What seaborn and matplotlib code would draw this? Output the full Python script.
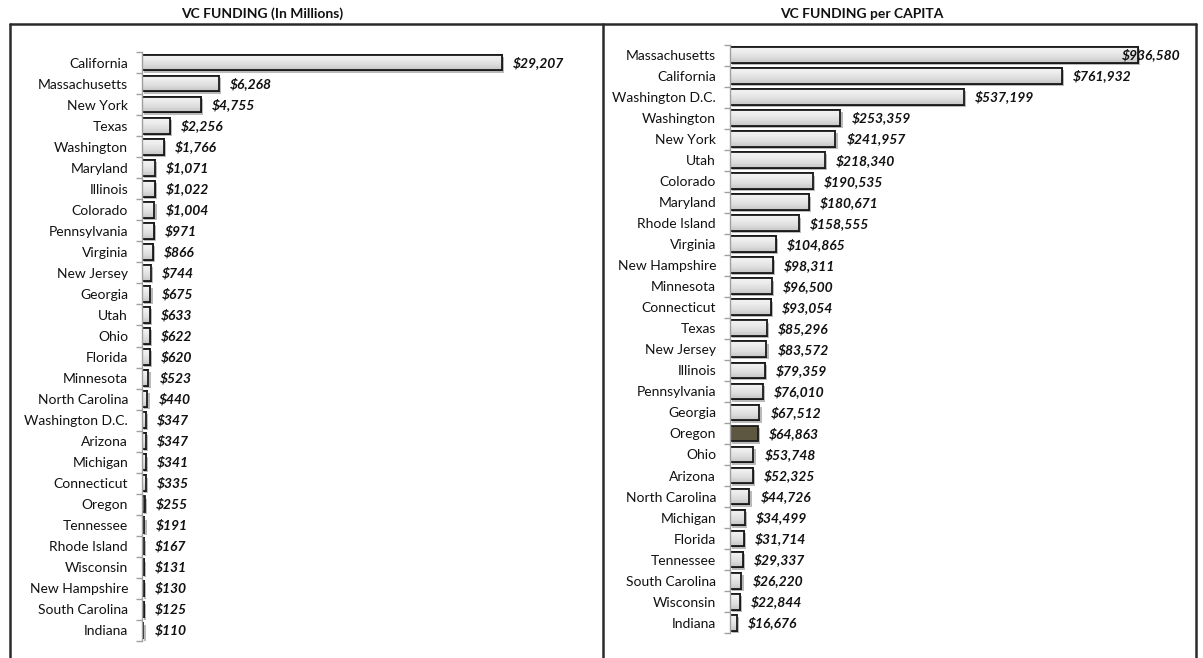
import matplotlib
matplotlib.use("Agg")
import matplotlib.pyplot as plt
import matplotlib.patheffects as pe
from matplotlib.lines import Line2D
from matplotlib.colors import LinearSegmentedColormap
import seaborn as sns
import pandas as pd
import numpy as np

# ---- data ----
states_total = ["California", "Massachusetts", "New York", "Texas", "Washington", "Maryland",
                "Illinois", "Colorado", "Pennsylvania", "Virginia", "New Jersey", "Georgia",
                "Utah", "Ohio", "Florida", "Minnesota", "North Carolina", "Washington D.C.",
                "Arizona", "Michigan", "Connecticut", "Oregon", "Tennessee", "Rhode Island",
                "Wisconsin", "New Hampshire", "South Carolina", "Indiana"]
funding_total = [29207, 6268, 4755, 2256, 1766, 1071, 1022, 1004, 971, 866, 744, 675,
                 633, 622, 620, 523, 440, 347, 347, 341, 335, 255, 191, 167, 131, 130, 125, 110]

states_capita = ["Massachusetts", "California", "Washington D.C.", "Washington", "New York",
                 "Utah", "Colorado", "Maryland", "Rhode Island", "Virginia", "New Hampshire",
                 "Minnesota", "Connecticut", "Texas", "New Jersey", "Illinois", "Pennsylvania",
                 "Georgia", "Oregon", "Ohio", "Arizona", "North Carolina", "Michigan", "Florida",
                 "Tennessee", "South Carolina", "Wisconsin", "Indiana"]
funding_capita = [936580, 761932, 537199, 253359, 241957, 218340, 190535, 180671, 158555,
                  104865, 98311, 96500, 93054, 85296, 83572, 79359, 76010, 67512, 64863,
                  53748, 52325, 44726, 34499, 31714, 29337, 26220, 22844, 16676]

title_total = "VC FUNDING (In Millions)"
title_capita = "VC FUNDING per CAPITA"
highlight = "Oregon"

# ---- style ----
sns.set_theme(style="white")
plt.rcParams["font.family"] = ["Lato", "DejaVu Sans"]

W, H = 1203, 658
fig = plt.figure(figsize=(W / 100, H / 100), dpi=100)

BAR_FILL = "#e3e3e3"
HL_FILL = "#5d5640"
grad_cmap = LinearSegmentedColormap.from_list(
    "g", ["#f4f4f4", "#ebebeb", "#dcdcdc", "#c6c6c6"])


def fx(px):
    return px / W


def fy(py):
    return 1 - py / H


def panel(ax_rect, states, values, xmax):
    l, t, r, b = ax_rect
    ax = fig.add_axes([fx(l), fy(b), fx(r) - fx(l), fy(t) - fy(b)])
    df = pd.DataFrame({"state": states, "value": values})
    pal = {s: (HL_FILL if s == highlight else BAR_FILL) for s in states}
    sns.barplot(data=df, x="value", y="state", hue="state", palette=pal, legend=False,
                orient="h", width=0.75, edgecolor="#1a1a1a", linewidth=1.3, ax=ax,
                saturation=1)
    grad = np.linspace(0, 1, 64).reshape(-1, 1)
    for p in list(ax.patches):
        p.set_path_effects([pe.SimplePatchShadow(offset=(1.6, -1.6), shadow_rgbFace="#666666",
                                                 alpha=0.45), pe.Normal()])
        if np.allclose(p.get_facecolor()[:3], matplotlib.colors.to_rgb(BAR_FILL), atol=0.01):
            x0, y0 = p.get_x(), p.get_y()
            w, h = p.get_width(), p.get_height()
            im = ax.imshow(grad, cmap=grad_cmap, aspect="auto",
                           extent=(x0, x0 + w, y0 + h, y0), zorder=p.get_zorder() + 0.1,
                           interpolation="bilinear")
            im.set_clip_path(p)
            edge = matplotlib.patches.Rectangle((x0, y0), w, h, fill=False,
                                                edgecolor="#1a1a1a", linewidth=1.3,
                                                zorder=p.get_zorder() + 0.2)
            ax.add_patch(edge)
    ax.set_xlim(0, xmax)
    ax.set_ylim(len(states) - 0.5, -0.5)
    ax.set_xlabel("")
    ax.set_ylabel("")
    ax.set_xticks([])
    for s in ["top", "right", "bottom"]:
        ax.spines[s].set_visible(False)
    ax.spines["left"].set_color("#a0a0a0")
    ax.spines["left"].set_linewidth(1.0)
    ax.tick_params(axis="y", which="major", length=0, pad=10, labelsize=10, labelcolor="#111111")
    ax.set_yticks(np.arange(-0.5, len(states), 1.0), minor=True)
    ax.tick_params(axis="y", which="minor", length=4, width=1.0, color="#a0a0a0", left=True)
    ax.patch.set_alpha(0)
    for i, v in enumerate(values):
        txt = "$" + f"{v:,}"
        if v > 0.85 * xmax:
            ax.annotate(txt, xy=(xmax, i), xytext=(-1.5, 0), textcoords="offset points",
                        ha="right", va="center", fontsize=10, fontweight="bold",
                        fontstyle="italic", color="#111111", zorder=10)
        else:
            ax.annotate(txt, xy=(v, i), xytext=(8, 0), textcoords="offset points",
                        ha="left", va="center", fontsize=10, fontweight="bold",
                        fontstyle="italic", color="#111111", zorder=10)
    return ax


panel((142, 52, 590, 641), states_total, funding_total, 29207 * (590 - 142) / 360)
panel((730, 44.5, 1183, 633.2), states_capita, funding_capita, 936580 * (1183 - 730) / 408)

# frames
frame_kw = dict(color="#2a2a2a", linewidth=1.8, transform=fig.transFigure)
fig.add_artist(Line2D([fx(10), fx(1196)], [fy(24), fy(24)], **frame_kw))
fig.add_artist(Line2D([fx(10), fx(10)], [fy(24), fy(700)], **frame_kw))
fig.add_artist(Line2D([fx(603), fx(603)], [fy(24), fy(700)], **frame_kw))
fig.add_artist(Line2D([fx(1196), fx(1196)], [fy(24), fy(700)], **frame_kw))

fig.text(fx(262), fy(13.5), title_total, ha="center", va="center", fontsize=10,
         fontweight="bold", color="#111111")
fig.text(fx(862), fy(13.5), title_capita, ha="center", va="center", fontsize=10,
         fontweight="bold", color="#111111")

fig.savefig("out.png", dpi=100)
